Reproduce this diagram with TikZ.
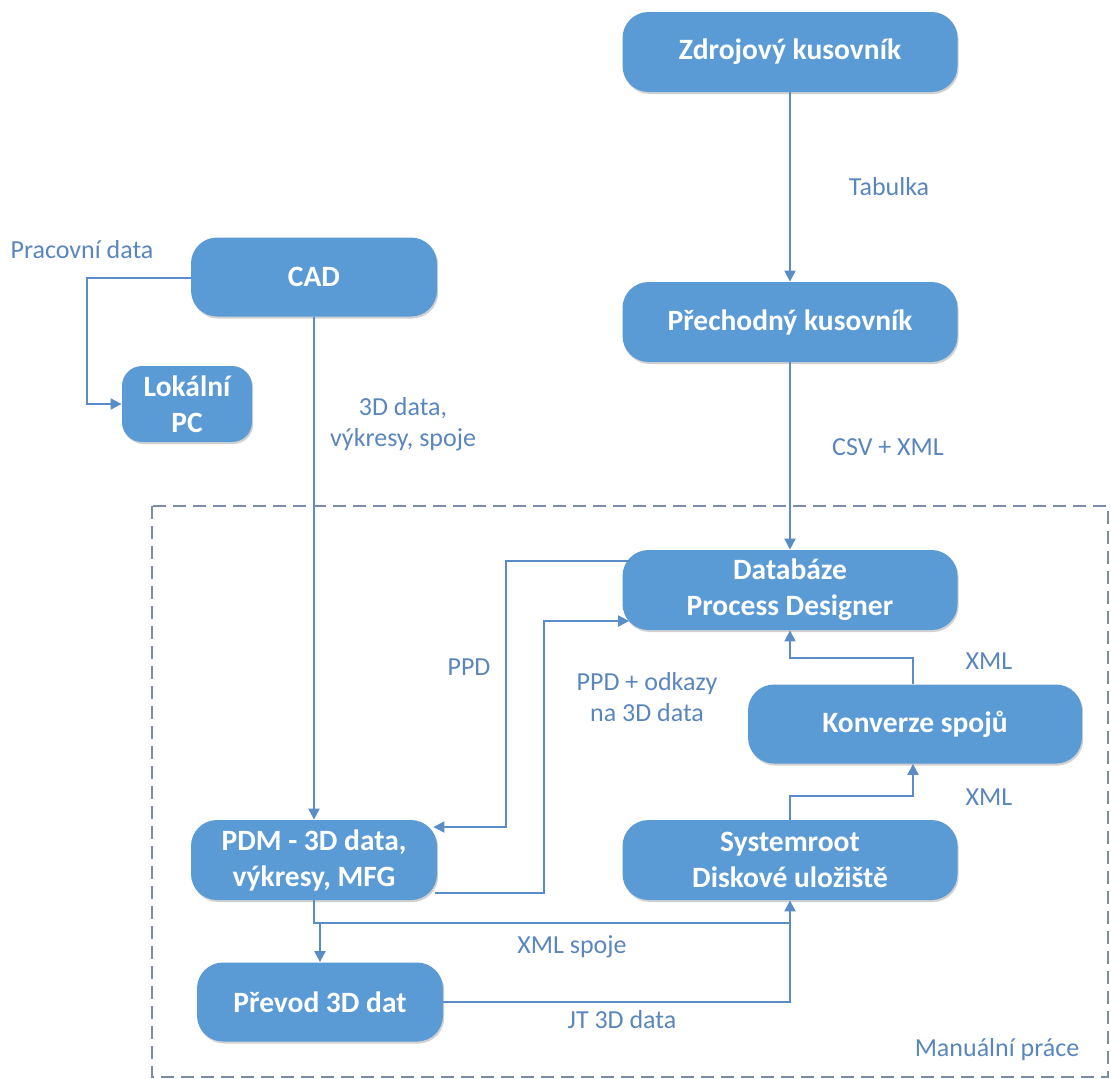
\documentclass[tikz,border=0pt]{standalone}
\usepackage{fontspec}
\setmainfont{Carlito}
\usetikzlibrary{arrows.meta,shadows}
\definecolor{boxblue}{HTML}{5B9BD5}
\definecolor{lineblue}{HTML}{5A8CC8}
\definecolor{labelblue}{HTML}{5A86BE}
\definecolor{framegray}{HTML}{7A8CA8}

\begin{document}
\begin{tikzpicture}[x=0.5pt,y=-0.5pt,
  box/.style={fill=boxblue, rounded corners=13pt, text=white,
    font=\bfseries\fontsize{14.75}{18}\selectfont, align=center, inner sep=0pt,
    drop shadow={shadow xshift=0.6pt, shadow yshift=-1pt, opacity=0.18, fill=black}},
  wide/.style={minimum width=167.5pt, minimum height=40pt},
  narrow/.style={minimum width=123pt, minimum height=39.5pt},
  conn/.style={draw=lineblue, line width=1pt, -{Triangle[length=5.5pt,width=5.5pt]}},
  plain/.style={draw=lineblue, line width=1pt},
  lbl/.style={text=labelblue, font=\fontsize{13}{15.5}\selectfont, align=center, inner sep=0pt}]
\useasboundingbox (0,0) rectangle (1111,1078);

% region of manual work
\draw[framegray, line width=0.7pt, dash pattern=on 6.5pt off 3.5pt]
  (152,506) rectangle (1108,1077);

% process boxes
\node[box, wide] (zdroj) at (790,52) {Zdrojový kusovník};
\node[box, wide] (prech) at (790,322) {Přechodný kusovník};
\node[box, narrow] (cad) at (314,277) {CAD};
\node[box, minimum width=65pt, minimum height=38pt, rounded corners=10pt] (lok) at (187,404) {Lokální\\PC};
\node[box, wide] (db) at (790,590) {Databáze\\Process Designer};
\node[box, minimum width=167pt, minimum height=39.5pt] (konv) at (915,724) {Konverze spojů};
\node[box, wide] (sys) at (790,860) {Systemroot\\Diskové uložiště};
\node[box, narrow, minimum height=40pt] (pdm) at (314,860) {PDM - 3D data,\\výkresy, MFG};
\node[box, narrow] (prev) at (320,1002) {Převod 3D dat};

% connectors
\draw[conn] (zdroj) -- (prech);
\draw[conn] (prech) -- (db);
\draw[conn] (cad.south) -- (pdm.north);
\draw[conn] ([yshift=-0.5pt]cad.west) -- ++(-104,0) |- (lok.west);
\draw[conn] ([shift={(8,-29)}]db.west) -- ++(-124,0) |- ([shift={(-4,-33)}]pdm.east);
\draw[conn] ([shift={(-2,33)}]pdm.east) -- ++(109,0) |- ([shift={(7,31)}]db.west);
\draw[conn] ([xshift=-1pt]konv.north) -- ++(0,-26) -| (db.south);
\draw[conn] (sys.north) -- ++(0,-24) -| ([xshift=-1pt]konv.south);
\draw[conn] (pdm.south) -- ++(0,23) -| (sys.south);
\draw[conn] (pdm.south) -- ++(0,23) -| (prev.north);
\draw[plain] (prev.east) -| ([yshift=-11.5pt]sys.south);

% connector labels
\node[lbl] (lpracovni) at (82,250) {Pracovní data};
\node[lbl] (lcad) at (403,424) {3D data,\\výkresy, spoje};
\node[lbl] (ltab) at (889,187) {Tabulka};
\node[lbl] (lcsv) at (888,447) {CSV + XML};
\node[lbl] (lppd) at (469,667) {PPD};
\node[lbl] (lodkazy) at (647,697) {PPD + odkazy\\na 3D data};
\node[lbl] (lxmla) at (989,661) {XML};
\node[lbl] (lxmlb) at (989,797) {XML};
\node[lbl] (lspoje) at (572,947) {XML spoje};
\node[lbl] (ljt) at (622,1020) {JT 3D data};
\node[lbl] (lmanual) at (997,1050) {Manuální práce};
\end{tikzpicture}
\end{document}
